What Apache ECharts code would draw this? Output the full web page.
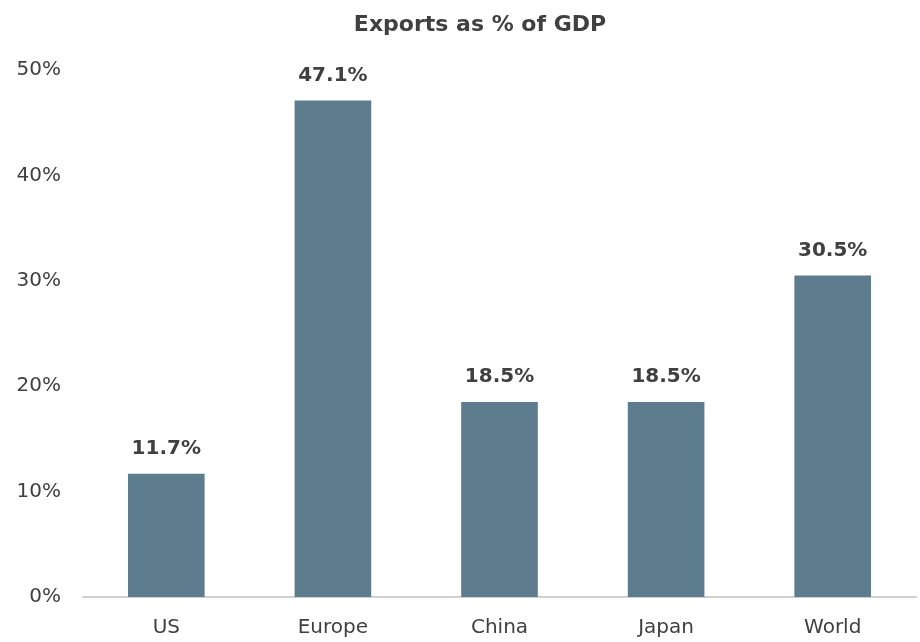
<!DOCTYPE html>
<html>
<head>
<meta charset="utf-8">
<script src="https://cdn.jsdelivr.net/npm/echarts@6/dist/echarts.min.js"></script>
<style>
  html, body { margin: 0; padding: 0; background: #ffffff; }
  #chart { width: 920px; height: 642px; }
</style>
</head>
<body>
<div id="chart"></div>
<script>
// Exports as a share of GDP, by economy
const categories = ['US', 'Europe', 'China', 'Japan', 'World'];
const exportsPct = [11.7, 47.1, 18.5, 18.5, 30.5];
const yTicks = [0, 10, 20, 30, 40, 50];

const FONT = '"DejaVu Sans", Lato, sans-serif';
const TEXT = '#404040';

const chart = echarts.init(document.getElementById('chart'), null, { renderer: 'canvas' });

chart.setOption({
  animation: false,
  backgroundColor: '#ffffff',
  title: {
    text: 'Exports as % of GDP',
    left: 475,
    textAlign: 'center',
    top: 9,
    textStyle: { fontFamily: FONT, fontSize: 22, fontWeight: 'bold', color: TEXT }
  },
  grid: { left: 83, right: 4, top: 70, bottom: 45, containLabel: false },
  xAxis: {
    type: 'category',
    data: categories,
    axisLine: { show: true, lineStyle: { color: '#d0d0d0', width: 2 } },
    axisTick: { show: false },
    axisLabel: { fontFamily: FONT, fontSize: 20, color: TEXT, margin: 21 }
  },
  yAxis: {
    type: 'value',
    min: yTicks[0],
    max: yTicks[yTicks.length - 1],
    interval: 10,
    splitLine: { show: false },
    axisLine: { show: false },
    axisTick: { show: false },
    axisLabel: {
      fontFamily: FONT, fontSize: 20, color: TEXT, margin: 22,
      formatter: v => v + '%'
    }
  },
  series: [{
    type: 'bar',
    data: exportsPct,
    barWidth: '46%',
    itemStyle: { color: '#5d7d8f' },
    label: {
      show: true,
      position: 'top',
      distance: 15,
      fontFamily: FONT, fontSize: 20, fontWeight: 'bold', color: TEXT,
      formatter: p => p.value.toFixed(1) + '%'
    }
  }]
});
</script>
</body>
</html>
